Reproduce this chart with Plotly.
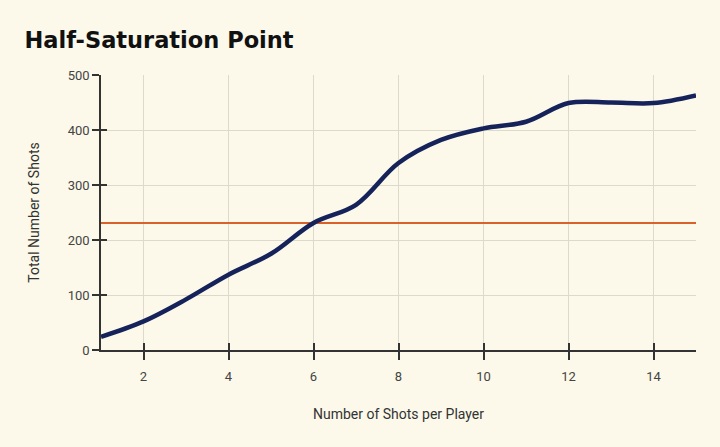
import plotly.graph_objects as go

shots_per_player = [1, 2, 3, 4, 5, 6, 7, 8, 9, 10, 11, 12, 13, 14, 15]
total_shots = [24, 52, 92, 137, 175, 231, 264, 340, 382, 403, 415, 449, 450, 449, 463]
half_saturation = 231

x_ticks = [2, 4, 6, 8, 10, 12, 14]
y_ticks = [0, 100, 200, 300, 400, 500]

bg = "#FCF9EA"
grid = "#DEDACB"
axis_col = "#333333"
font_fam = "Roboto, Liberation Sans, sans-serif"

fig = go.Figure()
fig.add_trace(go.Scatter(
    x=[shots_per_player[0], shots_per_player[-1]],
    y=[half_saturation, half_saturation],
    mode="lines", line=dict(color="#D8622A", width=2),
    hoverinfo="skip", showlegend=False,
))
fig.add_trace(go.Scatter(
    x=shots_per_player, y=total_shots, mode="lines",
    line=dict(color="#15235A", width=4.5, shape="spline", smoothing=1.0),
    showlegend=False,
))

fig.update_layout(
    width=720, height=447,
    paper_bgcolor=bg, plot_bgcolor=bg,
    margin=dict(l=101, r=24, t=75, b=97),
    title=dict(text="<b>Half-Saturation Point</b>", x=0.034, xanchor="left",
               y=0.91, yanchor="middle",
               font=dict(family="DejaVu Sans, sans-serif", size=22.5, color="#111111")),
    font=dict(family=font_fam, size=13, color="#444444"),
    xaxis=dict(range=[1, 15], tickvals=x_ticks, showgrid=True, gridcolor=grid,
               gridwidth=1, zeroline=False, showline=True, linecolor=axis_col,
               linewidth=1.5, ticks="outside", ticklen=8, tickcolor=axis_col,
               tickwidth=1.5, ticklabelstandoff=6,
               title=dict(text="Number of Shots per Player", standoff=26,
                          font=dict(size=14, color="#333333")),
               tickfont=dict(size=13, color="#444444")),
    yaxis=dict(range=[0, 500], tickvals=y_ticks, showgrid=True, gridcolor=grid,
               gridwidth=1, zeroline=False, showline=True, linecolor=axis_col,
               linewidth=1.5, ticks="outside", ticklen=7, tickcolor=axis_col,
               tickwidth=1.5,
               title=dict(text="Total Number of Shots", standoff=25,
                          font=dict(size=14, color="#333333")),
               tickfont=dict(size=13, color="#444444")),
    xaxis2=dict(range=[1, 15], tickvals=x_ticks, overlaying="x", side="bottom",
                showgrid=False, zeroline=False, showticklabels=False,
                ticks="inside", ticklen=7, tickcolor=axis_col, tickwidth=1.5,
                anchor="y"),
    yaxis2=dict(range=[0, 500], tickvals=y_ticks, overlaying="y", side="left",
                showgrid=False, zeroline=False, showticklabels=False,
                ticks="inside", ticklen=6, tickcolor=axis_col, tickwidth=1.5,
                anchor="x"),
)
# invisible trace to activate secondary axes for the inward tick marks
fig.add_trace(go.Scatter(x=[None], y=[None], xaxis="x2", yaxis="y2",
                         showlegend=False, hoverinfo="skip"))

fig.write_html("out.html")
